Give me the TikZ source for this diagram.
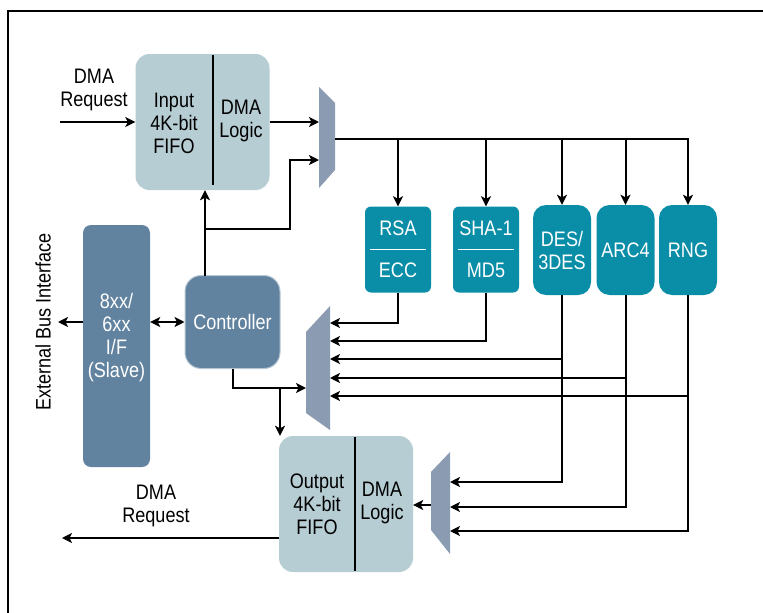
\documentclass[tikz,border=0pt]{standalone}
\usepackage{fontspec}
\setmainfont{Liberation Sans}[FakeStretch=0.86]
\usetikzlibrary{arrows.meta, positioning}

\definecolor{fifogray}{RGB}{182,205,211}
\definecolor{steelblue}{RGB}{98,131,160}
\definecolor{muxgray}{RGB}{138,155,178}
\definecolor{cryptoteal}{RGB}{10,142,168}

\begin{document}
\begin{tikzpicture}[x=1pt, y=-1pt,
    fifo/.style={rectangle, fill=fifogray, rounded corners=14pt, minimum width=134pt, minimum height=136pt},
    engine/.style={rectangle, fill=cryptoteal, rounded corners=6pt, minimum width=66pt, minimum height=86pt},
    roundengine/.style={engine, rounded corners=13pt, minimum width=58pt, minimum height=90pt},
    label/.style={font=\fontsize{21}{23}\selectfont, align=center, inner sep=0pt},
    wlabel/.style={label, text=white},
    arrow/.style={-{Stealth[length=10pt,width=10pt,inset=2.5pt]}, line width=2pt},
    dblarrow/.style={{Stealth[length=10pt,width=10pt,inset=2.5pt]}-{Stealth[length=10pt,width=10pt,inset=2.5pt]}, line width=2pt}
  ]
  \useasboundingbox (0,0) rectangle (763,613);

  % Marco
  \draw[line width=2pt] (8,613) -- (8,11) -- (763,11);

  % FIFO de entrada y salida
  \node[fifo] (inFIFO) at (202.5,122) {};
  \draw[line width=2pt] ([xshift=10.5pt,yshift=-1pt]inFIFO.north) -- ([xshift=10.5pt,yshift=5pt]inFIFO.south);
  \node[label] (inT) at (174,123) {Input\\4K-bit\\FIFO};
  \node[label] (inL) at (241,121) {DMA\\Logic};

  \node[fifo] (outFIFO) at (346,504) {};
  \draw[line width=2pt] ([xshift=9pt,yshift=-1pt]outFIFO.north) -- ([xshift=9pt,yshift=1pt]outFIFO.south);
  \node[label] (outT) at (317,504) {Output\\4K-bit\\FIFO};
  \node[label] (outL) at (382,503) {DMA\\Logic};

  % Interfaz y controlador
  \node[rectangle, fill=steelblue, rounded corners=8pt, minimum width=67pt, minimum height=242pt] (ifbox) at (116.5,346) {};
  \node[wlabel] (ifT) at (116.5,337.5) {8xx/\\6xx\\I/F\\(Slave)};
  \node[rectangle, fill=steelblue, draw=steelblue!45, line width=1pt, rounded corners=16pt, minimum width=95pt, minimum height=93pt] (ctrl) at (232.5,322) {};
  \node[wlabel] (ctrlT) at (ctrl.center) {Controller};
  \node[label, rotate=90] (extT) at (43,322) {External Bus Interface};

  % Motores criptograficos
  \node[engine] (rsa) at (398,249.5) {};
  \node[engine] (sha) at (486,249.5) {};
  \node[roundengine] (des) at (562,250) {};
  \node[roundengine] (arc) at (625.5,250) {};
  \node[roundengine] (rng) at (688,250) {};
  \draw[white, line width=1.5pt] ([xshift=5pt]rsa.west) -- ([xshift=-5pt]rsa.east);
  \draw[white, line width=1.5pt] ([xshift=5pt]sha.west) -- ([xshift=-5pt]sha.east);
  \node[wlabel] at ([yshift=21pt]rsa.center) {RSA};
  \node[wlabel] at ([yshift=-21pt]rsa.center) {ECC};
  \node[wlabel] at ([yshift=21pt]sha.center) {SHA-1};
  \node[wlabel] at ([yshift=-21pt]sha.center) {MD5};
  \node[wlabel] at (des.center) {DES/\\3DES};
  \node[wlabel] at (arc.center) {ARC4};
  \node[wlabel] at (rng.center) {RNG};

  % Multiplexores
  \fill[muxgray] (319,87) -- (335,103) -- (335,170) -- (319,188) -- cycle;
  \fill[muxgray] (306,332) -- (330,306) -- (330,430) -- (306,413) -- cycle;
  \fill[muxgray] (431,472) -- (450,452) -- (450,554) -- (431,530) -- cycle;
  \coordinate (muxAin1) at (319,122);
  \coordinate (muxAin2) at (319,160);
  \coordinate (muxAout) at (335,139);
  \coordinate (muxBsel) at (306,388);
  \foreach \n/\y in {1/323,2/341,3/359,4/378,5/396}
    \coordinate (muxBin\n) at (330,\y);
  \foreach \n/\y in {1/482,2/507,3/531}
    \coordinate (muxCin\n) at (450,\y);
  \coordinate (muxCout) at (431,505);

  % Peticiones DMA
  \coordinate (dmaIn) at (60,122);
  \coordinate (dmaOut) at (62,538);
  \coordinate (extBus) at (58,322);
  \node[label] (reqIn) at (94,90) {DMA\\Request};
  \node[label] (reqOut) at (156,506) {DMA\\Request};
  \draw[arrow] (dmaIn) -- (inFIFO.west);
  \draw[arrow] ([yshift=-34pt]outFIFO.west) -- (dmaOut);

  % Bus externo
  \draw[arrow] (ifbox.west |- ctrl.west) -- (extBus);
  \draw[dblarrow] (ifbox.east |- ctrl.west) -- (ctrl.west);

  % Control
  \coordinate (ctrlUp) at (205,276);
  \coordinate (tap) at (205,229);
  \coordinate (tap2) at (280,388);
  \draw[arrow] (ctrlUp) -- (ctrlUp |- inFIFO.south);
  \draw[arrow] (tap) -- ++(85,0) |- (muxAin2);
  \draw[arrow] (ctrl.south) |- (muxBsel);
  \draw[arrow] (tap2) -- (tap2 |- outFIFO.north);

  % Bus hacia los motores
  \draw[arrow] (inFIFO.east |- muxAin1) -- (muxAin1);
  \draw[arrow] (muxAout) -| (rng.north);
  \foreach \e in {rsa,sha,des,arc}
    \draw[arrow] (muxAout -| \e.north) -- (\e.north);

  % Salidas de los motores
  \draw[arrow] (rsa.south) |- (muxBin1);
  \draw[arrow] (sha.south) |- (muxBin2);
  \draw[arrow] (des.south) |- (muxCin1);
  \draw[arrow] (arc.south) |- (muxCin2);
  \draw[arrow] (rng.south) |- (muxCin3);
  \draw[arrow] (des.south |- muxBin3) -- (muxBin3);
  \draw[arrow] (arc.south |- muxBin4) -- (muxBin4);
  \draw[arrow] (rng.south |- muxBin5) -- (muxBin5);
  \draw[arrow] (muxCout) -- (outFIFO.east |- muxCout);
\end{tikzpicture}
\end{document}
